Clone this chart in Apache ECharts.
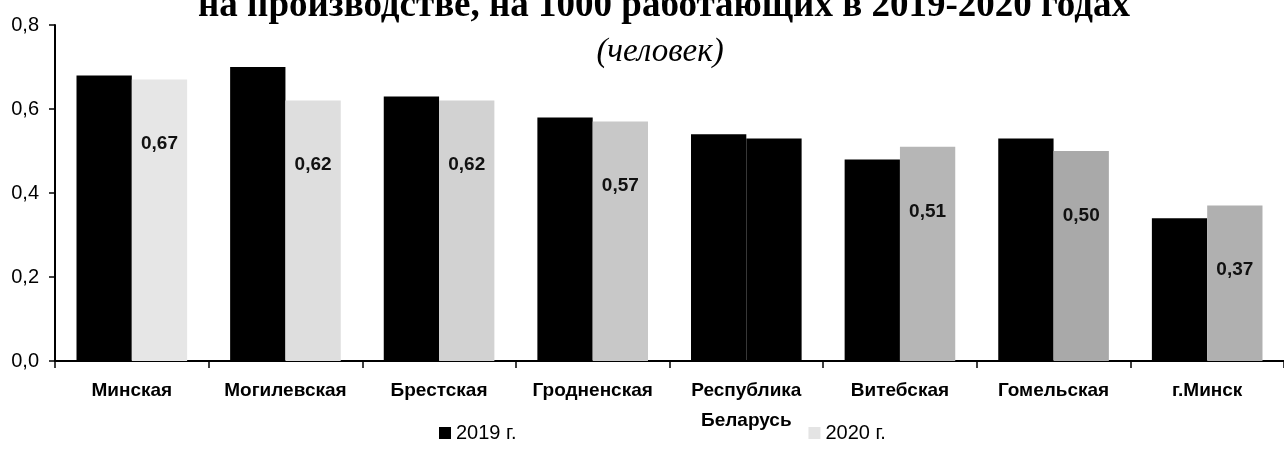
<!DOCTYPE html>
<html>
<head>
<meta charset="utf-8">
<script src="https://cdn.jsdelivr.net/npm/echarts@6/dist/echarts.min.js"></script>
<style>
html,body{margin:0;padding:0;background:#fff;}
#chart{width:1284px;height:462px;}
</style>
</head>
<body>
<div id="chart"></div>
<script>
const categories = ['Минская', 'Могилевская', 'Брестская', 'Гродненская', 'Республика\nБеларусь', 'Витебская', 'Гомельская', 'г.Минск'];
const values2019 = [0.68, 0.70, 0.63, 0.58, 0.54, 0.48, 0.53, 0.34];
const values2020 = [0.67, 0.62, 0.62, 0.57, 0.53, 0.51, 0.50, 0.37];
const seriesNames = ['2019 г.', '2020 г.'];
const yTicks = [0, 0.2, 0.4, 0.6, 0.8];

const grays2020 = ['#e6e6e6', '#dedede', '#d2d2d2', '#c8c8c8', '#000000', '#b6b6b6', '#a9a9a9', '#b0b0b0'];
const totalIndex = 4;

const chart = echarts.init(document.getElementById('chart'), null, {renderer: 'canvas'});

const data2020 = values2020.map((v, i) => ({
  value: v,
  itemStyle: {color: grays2020[i]},
  label: {show: i !== totalIndex}
}));

const sans = '"Liberation Sans", Arial, sans-serif';
const serif = '"Liberation Serif", "Times New Roman", serif';

const option = {
  animation: false,
  backgroundColor: '#ffffff',
  title: [
    {
      text: 'на производстве, на 1000 работающих в 2019-2020 годах',
      left: 659, top: -17, textAlign: 'center',
      textStyle: {fontFamily: serif, fontWeight: 'bold', fontSize: 37, color: '#000'}
    },
    {
      text: '(человек)',
      left: 655, top: 31, textAlign: 'center',
      textStyle: {fontFamily: serif, fontStyle: 'italic', fontWeight: 'normal', fontSize: 33, color: '#000'}
    }
  ],
  legend: {
    left: 434, top: 418,
    itemWidth: 12, itemHeight: 12, itemGap: 292,
    textStyle: {fontFamily: sans, fontSize: 20, color: '#000'},
    data: [
      {name: seriesNames[0], icon: 'rect', itemStyle: {color: '#000'}},
      {name: seriesNames[1], icon: 'rect', itemStyle: {color: '#e4e4e4'}}
    ]
  },
  grid: {left: 55, right: -6, top: 25, bottom: 101, containLabel: false},
  xAxis: {
    type: 'category',
    data: categories,
    boundaryGap: true,
    axisLine: {lineStyle: {color: '#000', width: 2}},
    axisTick: {show: true, length: 7, lineStyle: {color: '#000', width: 1.5}},
    axisLabel: {
      interval: 0, margin: 15, lineHeight: 30,
      fontFamily: sans, fontSize: 19, fontWeight: 'bold', color: '#000'
    }
  },
  yAxis: {
    type: 'value', min: 0, max: 0.8, interval: 0.2,
    axisLine: {show: true, lineStyle: {color: '#000', width: 2}},
    axisTick: {show: true, length: 6, lineStyle: {color: '#000', width: 1.5}},
    splitLine: {show: false},
    axisLabel: {
      margin: 16,
      fontFamily: sans, fontSize: 20, color: '#000',
      formatter: v => yTicks.includes(Math.round(v * 10) / 10) ? v.toFixed(1).replace('.', ',') : ''
    }
  },
  series: [
    {
      name: seriesNames[0], type: 'bar', data: values2019,
      barGap: '0%', barCategoryGap: '28%',
      itemStyle: {color: '#000'}
    },
    {
      name: seriesNames[1], type: 'bar', data: data2020,
      barGap: '0%', barCategoryGap: '28%',
      label: {
        show: true, position: 'insideTop', distance: 55,
        formatter: p => p.value.toFixed(2).replace('.', ','),
        fontFamily: sans, fontWeight: 'bold', fontSize: 19, color: '#111'
      }
    }
  ]
};
chart.setOption(option);
</script>
</body>
</html>
